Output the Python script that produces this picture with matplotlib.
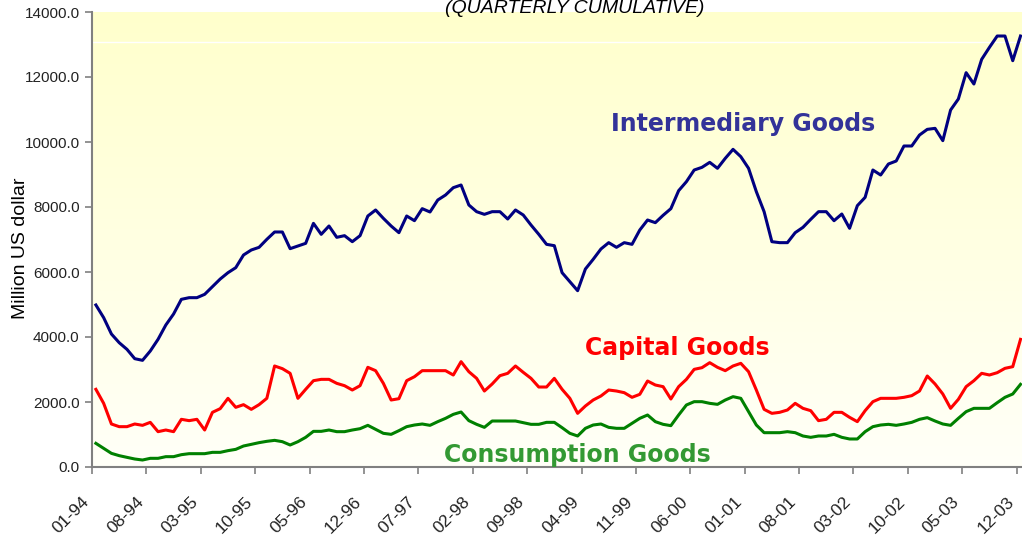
import matplotlib
matplotlib.use('Agg')
import matplotlib.pyplot as plt
import numpy as np
from matplotlib.colors import LinearSegmentedColormap

# monthly values, 01-94 .. 12-03 (million US dollar)
intermediate = [
    4985, 4595, 4092, 3825, 3620, 3333, 3282, 3569, 3928, 4369,
    4708, 5159, 5210, 5210, 5313, 5549, 5784, 5979, 6133, 6523,
    6677, 6759, 7005, 7231, 7231, 6718, 6800, 6882, 7497, 7159,
    7415, 7067, 7118, 6933, 7118, 7723, 7908, 7651, 7415, 7210,
    7723, 7579, 7949, 7846, 8215, 8369, 8595, 8677, 8062, 7856,
    7774, 7856, 7856, 7631, 7908, 7754, 7446, 7159, 6851, 6810,
    5979, 5702, 5425, 6092, 6390, 6708, 6903, 6759, 6903, 6851,
    7292, 7600, 7518, 7744, 7949, 8502, 8779, 9138, 9220, 9374,
    9190, 9497, 9774, 9549, 9190, 8472, 7856, 6933, 6903, 6903,
    7210, 7374, 7620, 7856, 7856, 7579, 7784, 7344, 8041, 8297,
    9138, 8984, 9323, 9415, 9877, 9877, 10215, 10389, 10420, 10041,
    10984, 11323, 12133, 11784, 12543, 12912, 13261, 13261, 12502, 13261]

capital = [
    2390, 1959, 1323, 1241, 1241, 1323, 1282, 1374, 1087, 1138,
    1087, 1467, 1426, 1467, 1138, 1682, 1795, 2113, 1836, 1918,
    1774, 1918, 2113, 3108, 3026, 2882, 2113, 2390, 2656, 2697,
    2697, 2574, 2502, 2369, 2502, 3067, 2964, 2574, 2061, 2102,
    2656, 2779, 2964, 2964, 2964, 2964, 2830, 3241, 2933, 2728,
    2338, 2554, 2810, 2882, 3108, 2913, 2728, 2461, 2461, 2728,
    2390, 2113, 1651, 1877, 2061, 2185, 2369, 2338, 2287, 2144,
    2236, 2646, 2523, 2472, 2092, 2472, 2697, 3005, 3056, 3210,
    3067, 2964, 3108, 3190, 2933, 2369, 1774, 1651, 1682, 1754,
    1959, 1805, 1733, 1426, 1467, 1682, 1682, 1528, 1395, 1733,
    2010, 2113, 2113, 2113, 2144, 2195, 2338, 2800, 2554, 2246,
    1805, 2082, 2472, 2656, 2882, 2831, 2902, 3036, 3087, 3928]

consumption = [
    728, 574, 420, 349, 297, 246, 215, 267, 267, 318,
    318, 379, 410, 410, 410, 451, 451, 503, 543, 646,
    697, 749, 790, 820, 779, 677, 779, 913, 1097, 1097,
    1138, 1087, 1087, 1138, 1179, 1282, 1159, 1036, 1005, 1118,
    1241, 1292, 1323, 1282, 1395, 1497, 1620, 1692, 1426, 1313,
    1220, 1415, 1415, 1415, 1415, 1364, 1313, 1313, 1374, 1374,
    1210, 1036, 954, 1190, 1292, 1323, 1220, 1190, 1190, 1344,
    1497, 1600, 1395, 1313, 1272, 1600, 1908, 2010, 2010, 1959,
    1928, 2061, 2164, 2113, 1703, 1292, 1056, 1056, 1056, 1087,
    1056, 954, 913, 954, 954, 1005, 913, 862, 862, 1087,
    1241, 1292, 1313, 1282, 1323, 1374, 1467, 1518, 1415, 1323,
    1282, 1497, 1703, 1805, 1805, 1805, 1979, 2144, 2246, 2543]

tickLabels = ['01-94', '08-94', '03-95', '10-95', '05-96', '12-96', '07-97',
              '02-98', '09-98', '04-99', '11-99', '06-00', '01-01', '08-01',
              '03-02', '10-02', '05-03', '12-03']

plt.rcParams['font.family'] = ['Liberation Sans', 'DejaVu Sans']

fig = plt.figure(figsize=(10.22, 5.41), dpi=100)
ax = fig.add_axes([92 / 1022, 1 - 467 / 541, 932.4 / 1022, 455 / 541])

n = len(intermediate)
x = np.arange(n) + 0.5

# yellow -> white background gradient
cmap = LinearSegmentedColormap.from_list('bg', ['#FFFFF8', '#FFFFCC'])
grad = np.linspace(0, 1, 256).reshape(-1, 1)
ax.imshow(grad, cmap=cmap, origin='lower', aspect='auto',
          extent=[0, n, 0, 14000], zorder=0)
ax.axhline(13070, color='white', lw=1, zorder=1)

ax.plot(x, intermediate, color='#000080', lw=2.2, zorder=3)
ax.plot(x, capital, color='#FF0000', lw=2.2, zorder=3)
ax.plot(x, consumption, color='#008000', lw=2.2, zorder=3)

ax.set_xlim(0, n)
ax.set_ylim(0, 14000)

ax.set_yticks(np.arange(0, 14001, 2000))
ax.set_yticklabels(['%.1f' % v for v in np.arange(0, 14001, 2000)], fontsize=11, color='#222222')
ax.set_xticks(np.arange(0, n, 7))
ax.set_xticklabels(tickLabels, rotation=45, ha='right', va='bottom', rotation_mode='anchor',
                   fontsize=12.5, color='#222222')
ax.tick_params(axis='x', length=5, width=1.2, color='#808080', pad=22)
ax.tick_params(axis='y', length=5, width=1.2, color='#808080', pad=4)

for s in ['top', 'right']:
    ax.spines[s].set_visible(False)
for s in ['left', 'bottom']:
    ax.spines[s].set_color('#808080')
    ax.spines[s].set_linewidth(1.5)

ax.set_ylabel('Million US dollar', fontsize=14)
ax.yaxis.set_label_coords(-0.0676, 0.48)

boldFont = 'DejaVu Sans'
fig.text(743 / 1022, 1 - 124 / 541, 'Intermediary Goods', color='#333399', fontsize=17,
         fontweight='bold', family=boldFont, ha='center', va='center')
fig.text(677 / 1022, 1 - 348 / 541, 'Capital Goods', color='#FF0000', fontsize=17,
         fontweight='bold', family=boldFont, ha='center', va='center')
fig.text(577 / 1022, 1 - 455 / 541, 'Consumption Goods', color='#339933', fontsize=17,
         fontweight='bold', family=boldFont, ha='center', va='center')

fig.text(575 / 1022, 1 - 13 / 541, '(QUARTERLY CUMULATIVE)', fontsize=14,
         style='italic', ha='center', va='baseline')

fig.savefig('out.png', dpi=100)
